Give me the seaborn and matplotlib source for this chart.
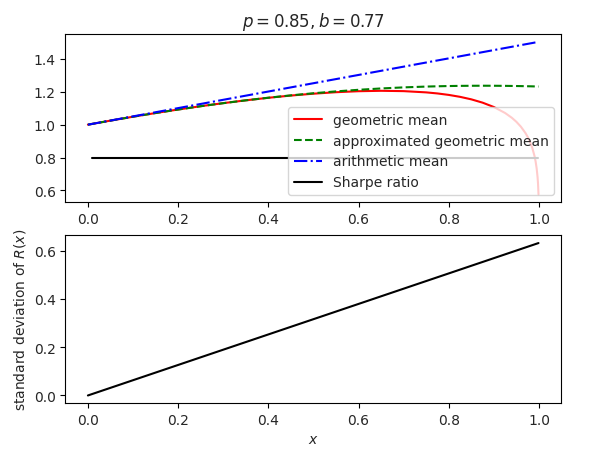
import matplotlib
matplotlib.use("Agg")
import matplotlib.pyplot as plt
import seaborn as sns

# values
x = [0.0, 0.05, 0.1, 0.15, 0.2, 0.25, 0.3, 0.35, 0.4, 0.45, 0.5, 0.55, 0.6,
     0.65, 0.7, 0.75, 0.775, 0.8, 0.825, 0.85, 0.875, 0.9, 0.925, 0.94,
     0.95, 0.96, 0.97, 0.975, 0.98, 0.985, 0.99, 0.9925, 0.995, 0.997,
     0.998, 0.999]
geo_mean = [1.0, 1.0247, 1.0484, 1.0709, 1.0923, 1.1124, 1.1311, 1.1482,
            1.1637, 1.1773, 1.1886, 1.1976, 1.2037, 1.2062, 1.2042, 1.1966,
            1.1901, 1.1812, 1.1695, 1.1542, 1.1341, 1.1075, 1.0710, 1.0417,
            1.0174, 0.9876, 0.9495, 0.9256, 0.8968, 0.8605, 0.8113, 0.7777,
            0.7325, 0.6790, 0.6392, 0.5763]
approx_geo_mean = [1.0, 1.0247, 1.0484, 1.0709, 1.0921, 1.1122, 1.1308,
                   1.1481, 1.1640, 1.1784, 1.1913, 1.2026, 1.2123, 1.2205,
                   1.2270, 1.2319, 1.2337, 1.2352, 1.2362, 1.2368, 1.2371,
                   1.2369, 1.2363, 1.2357, 1.2353, 1.2348, 1.2342, 1.2339,
                   1.2336, 1.2333, 1.2329, 1.2327, 1.2326, 1.2324, 1.2323,
                   1.2322]
arith_mean = [1.0, 1.0252, 1.0505, 1.0757, 1.1009, 1.1261, 1.1514, 1.1766,
              1.2018, 1.2270, 1.2523, 1.2775, 1.3027, 1.3279, 1.3532, 1.3784,
              1.3910, 1.4036, 1.4162, 1.4288, 1.4414, 1.4541, 1.4667, 1.4742,
              1.4793, 1.4843, 1.4894, 1.4919, 1.4944, 1.4969, 1.4995, 1.5007,
              1.5020, 1.5030, 1.5035, 1.5040]
sharpe_x = [0.008, 0.999]
sharpe = [0.798, 0.798]
sd_x = [0.0, 0.999]
sd = [0.0, 0.631]

sns.set_style("ticks")
plt.rcParams["axes.grid"] = False

fig, (ax1, ax2) = plt.subplots(2, 1, figsize=(5.89, 4.52), dpi=100)
fig.subplots_adjust(left=0.111, right=0.9525, top=0.922, bottom=0.106,
                    hspace=0.2)

sns.lineplot(x=x, y=geo_mean, ax=ax1, color="red", label="geometric mean")
sns.lineplot(x=x, y=approx_geo_mean, ax=ax1, color="green", linestyle="--",
             label="approximated geometric mean")
sns.lineplot(x=x, y=arith_mean, ax=ax1, color="blue", linestyle="-.",
             label="arithmetic mean")
sns.lineplot(x=sharpe_x, y=sharpe, ax=ax1, color="black", label="Sharpe ratio")
ax1.set_title("$p = 0.85, b = 0.77$", fontsize=12)
ax1.legend(loc="lower right", fontsize=10)

sns.lineplot(x=sd_x, y=sd, ax=ax2, color="black")
ax2.set_xlabel("$x$")
ax2.set_ylabel("standard deviation of $R(x)$")

for ax in (ax1, ax2):
    for side in ax.spines.values():
        side.set_visible(True)
        side.set_color("black")
        side.set_linewidth(0.8)
    ax.tick_params(labelsize=10, color="black", length=3.5, width=0.8)

fig.savefig("out.png", dpi=100)
